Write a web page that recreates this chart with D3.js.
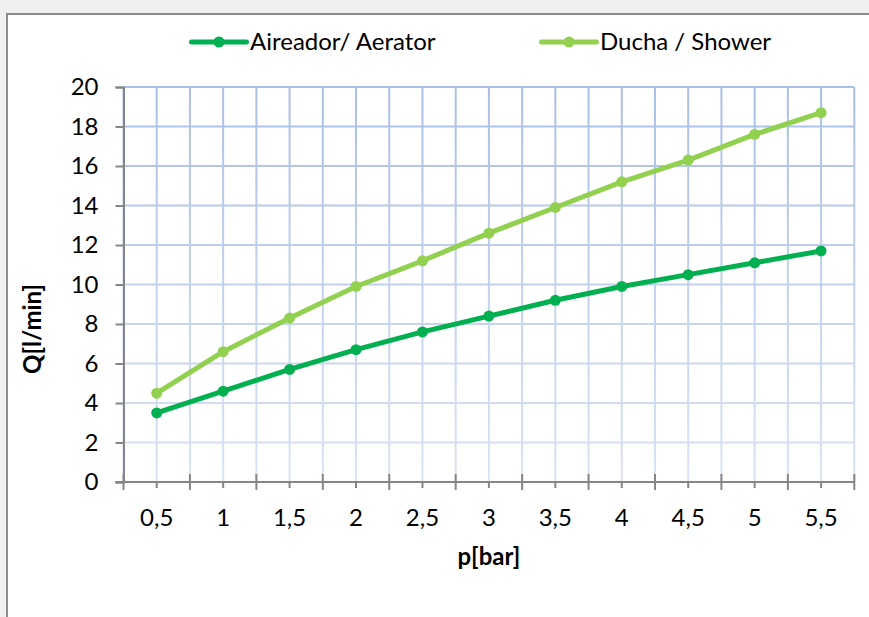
<!DOCTYPE html>
<html>
<head>
<meta charset="utf-8">
<script src="https://cdn.jsdelivr.net/npm/d3@7"></script>
<style>
  body { margin: 0; background: #f0f0f0; }
  svg { display: block; font-family: Lato, "Open Sans", sans-serif; }
</style>
</head>
<body>
<svg id="chart" width="869" height="617"></svg>
<script>
// pressure categories (bar) and flow values (l/min)
const categories = ["0,5", "1", "1,5", "2", "2,5", "3", "3,5", "4", "4,5", "5", "5,5"];
const aerator = [3.5, 4.6, 5.7, 6.7, 7.6, 8.4, 9.2, 9.9, 10.5, 11.1, 11.7];
const shower = [4.5, 6.6, 8.3, 9.9, 11.2, 12.6, 13.9, 15.2, 16.3, 17.6, 18.7];
const yTicks = [0, 2, 4, 6, 8, 10, 12, 14, 16, 18, 20];

const series = [
  { name: "Aireador/ Aerator", values: aerator, color: "#00b050" },
  { name: "Ducha / Shower", values: shower, color: "#92d050" }
];

const fontSize = 24;
const svg = d3.select("#chart");

// white chart area with grey frame
svg.append("rect")
  .attr("x", 7).attr("y", 14)
  .attr("width", 880).attr("height", 620)
  .attr("fill", "#fff")
  .attr("stroke", "#8c8c8c")
  .attr("stroke-width", 2);

const plotLeft = 123.5, plotRight = 854.3, plotTop = 87, plotBottom = 482;

const x = d3.scaleBand().domain(categories).range([plotLeft, plotRight]).padding(0);
const y = d3.scaleLinear().domain([0, 20]).range([plotBottom, plotTop]);
const half = x.bandwidth() / 2;

// gridline fade, stronger at the top
const defs = svg.append("defs");
const grad = defs.append("linearGradient")
  .attr("id", "gridFade")
  .attr("gradientUnits", "userSpaceOnUse")
  .attr("x1", 0).attr("y1", plotTop).attr("x2", 0).attr("y2", plotBottom);
grad.append("stop").attr("offset", "0%").attr("stop-color", "#a9bfe7");
grad.append("stop").attr("offset", "100%").attr("stop-color", "#dae3f3");

const grid = svg.append("g");
// vertical gridlines at band edges and centres
const vx = [];
categories.forEach(c => { vx.push(x(c)); vx.push(x(c) + half); });
vx.push(plotRight);
grid.selectAll("line.v")
  .data(vx)
  .enter().append("line")
    .attr("class", "v")
    .attr("x1", d => d).attr("x2", d => d)
    .attr("y1", plotTop).attr("y2", plotBottom)
    .attr("stroke", "url(#gridFade)")
    .attr("stroke-width", 2);
// horizontal gridlines
const hColor = d3.scaleLinear().domain([0, 20]).range(["#dae3f3", "#a9bfe7"]);
grid.selectAll("line.h")
  .data(yTicks.slice(1))
  .enter().append("line")
    .attr("class", "h")
    .attr("x1", plotLeft).attr("x2", plotRight)
    .attr("y1", d => y(d)).attr("y2", d => y(d))
    .attr("stroke", d => hColor(d))
    .attr("stroke-width", 2);

// y axis
const yAxis = svg.append("g")
  .attr("transform", `translate(${plotLeft},0)`)
  .call(d3.axisLeft(y).tickValues(yTicks).tickSize(8).tickPadding(17));
yAxis.select(".domain").attr("stroke", "#868686").attr("stroke-width", 2);
yAxis.selectAll(".tick line").attr("stroke", "#868686").attr("stroke-width", 2);
yAxis.selectAll(".tick text")
  .attr("font-size", fontSize).attr("fill", "#000")
  .attr("font-family", "Lato, sans-serif");

// x axis: major ticks at band edges, minor at centres
const xAxis = svg.append("g").attr("transform", `translate(0,${plotBottom})`);
xAxis.append("line")
  .attr("x1", plotLeft - 8).attr("x2", plotRight)
  .attr("stroke", "#868686").attr("stroke-width", 2);
const edges = categories.map(c => x(c)).concat([plotRight]);
xAxis.selectAll("line.major")
  .data(edges)
  .enter().append("line")
    .attr("class", "major")
    .attr("x1", d => d).attr("x2", d => d)
    .attr("y1", -8).attr("y2", 8)
    .attr("stroke", "#868686").attr("stroke-width", 2);
xAxis.selectAll("line.minor")
  .data(categories)
  .enter().append("line")
    .attr("class", "minor")
    .attr("x1", d => x(d) + half).attr("x2", d => x(d) + half)
    .attr("y1", 0).attr("y2", 6)
    .attr("stroke", "#868686").attr("stroke-width", 2);
xAxis.selectAll("text")
  .data(categories)
  .enter().append("text")
    .attr("x", d => x(d) + half)
    .attr("y", 44)
    .attr("text-anchor", "middle")
    .attr("font-size", fontSize)
    .text(d => d);

// axis titles
svg.append("text")
  .attr("x", (plotLeft + plotRight) / 2).attr("y", 565)
  .attr("text-anchor", "middle")
  .attr("font-size", fontSize).attr("font-weight", "bold")
  .text("p[bar]");
svg.append("text")
  .attr("transform", "translate(41,329) rotate(-90)")
  .attr("text-anchor", "middle")
  .attr("font-size", fontSize).attr("font-weight", "bold")
  .text("Q[l/min]");

// lines and markers
const line = d3.line()
  .x((d, i) => x(categories[i]) + half)
  .y(d => y(d));

series.forEach(s => {
  svg.append("path")
    .datum(s.values)
    .attr("d", line)
    .attr("fill", "none")
    .attr("stroke", s.color)
    .attr("stroke-width", 5)
    .attr("stroke-linejoin", "round");
  svg.selectAll(null)
    .data(s.values)
    .enter().append("circle")
      .attr("cx", (d, i) => x(categories[i]) + half)
      .attr("cy", d => y(d))
      .attr("r", 5.5)
      .attr("fill", s.color);
});

// legend
const legendX = [191.5, 541.5];
series.forEach((s, i) => {
  const g = svg.append("g").attr("transform", `translate(${legendX[i]},42)`);
  g.append("line")
    .attr("x1", 0).attr("x2", 55)
    .attr("stroke", s.color).attr("stroke-width", 5)
    .attr("stroke-linecap", "round");
  g.append("circle").attr("cx", 27.5).attr("r", 5.5).attr("fill", s.color);
  g.append("text")
    .attr("x", 58.5).attr("y", 8)
    .attr("font-size", fontSize)
    .text(s.name);
});
</script>
</body>
</html>
